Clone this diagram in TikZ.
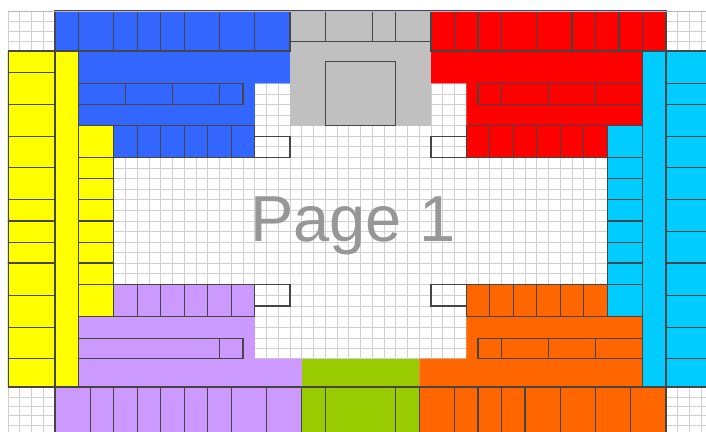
\documentclass[tikz,border=0pt]{standalone}
\usepackage{fontspec}
\setmainfont{Liberation Sans}
\definecolor{cellblue}{HTML}{3366FF}
\definecolor{cellgray}{HTML}{C0C0C0}
\definecolor{cellred}{HTML}{FF0000}
\definecolor{cellcyan}{HTML}{00CCFF}
\definecolor{cellyellow}{HTML}{FFFF00}
\definecolor{cellpurple}{HTML}{CC99FF}
\definecolor{cellgreen}{HTML}{99CC00}
\definecolor{cellorange}{HTML}{FF6600}
\definecolor{cellline}{HTML}{454545}
\definecolor{gridgray}{HTML}{D0D0D0}
\definecolor{edgeblue}{HTML}{B4B4DC}
\definecolor{labelgray}{HTML}{979797}
\tikzset{
  cell/.style={draw=cellline,line width=0.9pt},
  gridline/.style={draw=gridgray,line width=0.5pt},
  pageedge/.style={draw=edgeblue,line width=0.8pt},
  pagelabel/.style={text=labelgray,font=\fontsize{55.5}{56}\selectfont,inner sep=0pt,anchor=base west}
}

\begin{document}
\begin{tikzpicture}[x=0.3525cm,y=-0.03cm]
\useasboundingbox (-0.6809,0) rectangle (59.4043,432);
\fill[white] (-0.6809,0) rectangle (59.4043,432);
\begin{scope}
\clip (0,11) rectangle (59.4043,432);
% sheet grid
\foreach \n in {0,...,59} \draw[gridline] (\n,11) -- (\n,432);
\foreach \y in {21,31,41.5,51,61.8,72.3,83.3,93.8,104.3,115,125.7,136.3,146.8,157.3,167.9,178.5,189.1,199.8,210.3,221,231.6,242.2,252.6,263,273.7,284.3,295.3,306,316.7,327.6,338.3,348.5,358.7,368.1,377.6,387,397,406.3,415.5,425.3}
  \draw[gridline] (0,\y) -- (59.4043,\y);
% colour blocks
\fill[cellblue] (4,11) -- (24,11) -- (24,83.3) -- (21,83.3) -- (21,157.3) -- (9,157.3) -- (9,125.7) -- (6,125.7) -- (6,51) -- (4,51) -- cycle;
\fill[cellgray] (24,11) rectangle (36,125.7);
\fill[cellred] (36,11) -- (56,11) -- (56,51) -- (54,51) -- (54,125.7) -- (51,125.7) -- (51,157.3) -- (39,157.3) -- (39,83.3) -- (36,83.3) -- cycle;
\fill[cellyellow] (0,51) -- (6,51) -- (6,125.7) -- (9,125.7) -- (9,316.7) -- (6,316.7) -- (6,387) -- (0,387) -- cycle;
\fill[cellcyan] (56,51) -- (60,51) -- (60,387) -- (54,387) -- (54,316.7) -- (51,316.7) -- (51,125.7) -- (54,125.7) -- (54,51) -- cycle;
\fill[cellpurple] (9,284.3) -- (21,284.3) -- (21,358.7) -- (25,358.7) -- (25,440) -- (4,440) -- (4,387) -- (6,387) -- (6,316.7) -- (9,316.7) -- cycle;
\fill[cellgreen] (25,358.7) rectangle (35,440);
\fill[cellorange] (39,284.3) -- (51,284.3) -- (51,316.7) -- (54,316.7) -- (54,387) -- (56,387) -- (56,440) -- (35,440) -- (35,358.7) -- (39,358.7) -- cycle;
% blue cells
\foreach \a/\b in {4/6,6/9,9/11,11/13,13/15,15/18,18/21,21/24} \draw[cell] (\a,11) rectangle (\b,51);
\foreach \a/\b in {6/10,10/14,14/18,18/20} \draw[cell] (\a,83.3) rectangle (\b,104.3);
\foreach \a/\b in {9/11,11/13,13/15,15/17,17/19,19/21} \draw[cell] (\a,125.7) rectangle (\b,157.3);
% gray cells
\foreach \a/\b in {24/27,27/31,31/33,33/36} \draw[cell] (\a,11) rectangle (\b,41.5);
\draw[cell] (27,61.8) rectangle (33,125.7);
% red cells
\foreach \a/\b in {36/38,38/40,40/42,42/45,45/48,48/50,50/52,52/54,54/56} \draw[cell] (\a,11) rectangle (\b,51);
\foreach \a/\b in {40/42,42/46,46/50,50/54} \draw[cell] (\a,83.3) rectangle (\b,104.3);
\foreach \a/\b in {39/41,41/43,43/45,45/47,47/49,49/51} \draw[cell] (\a,125.7) rectangle (\b,157.3);
% yellow cells
\foreach \a/\b in {51/72.3,72.3/104.3,104.3/136.3,136.3/167.9,167.9/199.8,199.8/221,221/242.2,242.2/263,263/295.3,295.3/327.6,327.6/358.7,358.7/387}
  \draw[cell] (0,\a) rectangle (4,\b);
\draw[cell] (4,51) rectangle (6,387);
\foreach \a/\b in {125.7/157.3,157.3/178.5,178.5/199.8,199.8/221,221/242.2,242.2/263,263/284.3,284.3/316.7}
  \draw[cell] (6,\a) rectangle (9,\b);
% cyan cells
\foreach \a/\b in {51/83.3,83.3/104.3,104.3/136.3,136.3/167.9,167.9/199.8,199.8/231.6,231.6/263,263/295.3,295.3/327.6,327.6/358.7,358.7/387}
  \draw[cell] (56,\a) rectangle (60,\b);
\draw[cell] (54,51) rectangle (56,387);
\foreach \a/\b in {125.7/157.3,157.3/178.5,178.5/199.8,199.8/221,221/242.2,242.2/263,263/284.3,284.3/316.7}
  \draw[cell] (51,\a) rectangle (54,\b);
% purple cells
\foreach \a/\b in {9/11,11/13,13/15,15/17,17/19,19/21} \draw[cell] (\a,284.3) rectangle (\b,316.7);
\foreach \a/\b in {6/18,18/20} \draw[cell] (\a,338.3) rectangle (\b,358.7);
\foreach \a/\b in {4/7,7/9,9/11,11/13,13/15,15/17,17/19,19/22,22/25} \draw[cell] (\a,387) rectangle (\b,440);
% green cells
\foreach \a/\b in {25/27,27/33,33/35} \draw[cell] (\a,387) rectangle (\b,440);
% orange cells
\foreach \a/\b in {39/41,41/43,43/45,45/47,47/49,49/51} \draw[cell] (\a,284.3) rectangle (\b,316.7);
\foreach \a/\b in {40/42,42/46,46/50,50/54} \draw[cell] (\a,338.3) rectangle (\b,358.7);
\foreach \a/\b in {35/38,38/40,40/42,42/44,44/47,47/50,50/53,53/56} \draw[cell] (\a,387) rectangle (\b,440);
% empty boxes by the centre
\draw[cell] (21,136.3) rectangle (24,157.3);
\draw[cell] (36,136.3) rectangle (39,157.3);
\draw[cell] (21,284.3) rectangle (24,306);
\draw[cell] (36,284.3) rectangle (39,306);
\end{scope}
\draw[pageedge] (0,11) -- (59.4043,11);
\node[pagelabel] (page) at (20.58,241.7) {Page 1};
\end{tikzpicture}
\end{document}
